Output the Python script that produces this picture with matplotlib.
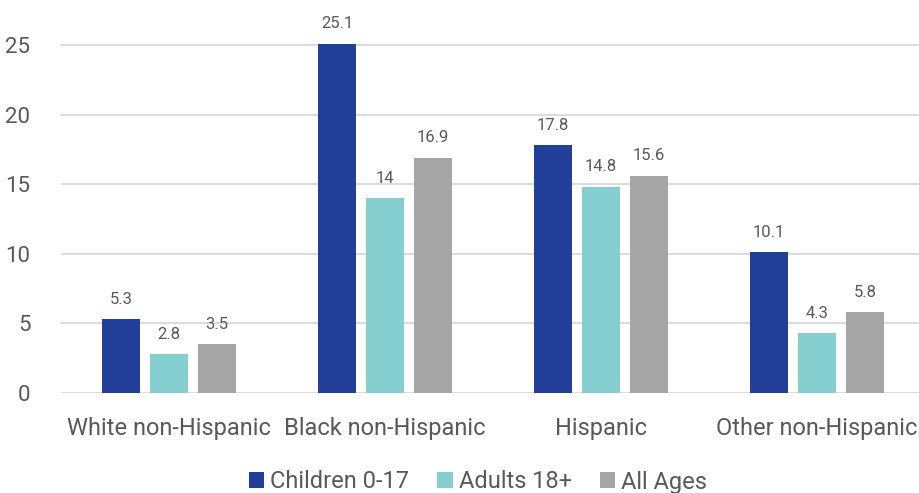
import matplotlib
matplotlib.use("Agg")
import matplotlib.pyplot as plt
import numpy as np

categories = ["White non-Hispanic", "Black non-Hispanic", "Hispanic", "Other non-Hispanic"]
series_names = ["Children 0-17", "Adults 18+", "All Ages"]
children = [5.3, 25.1, 17.8, 10.1]
adults = [2.8, 14, 14.8, 4.3]
all_ages = [3.5, 16.9, 15.6, 5.8]
colors = ["#22409A", "#86CFD1", "#A5A5A5"]
yticks = [0, 5, 10, 15, 20, 25]

plt.rcParams['font.family'] = ['Roboto', 'DejaVu Sans']
txt = "#595959"

fig = plt.figure(figsize=(9.2, 4.93), dpi=100)
W, H = 920, 493
y0 = 393
ppu = 13.92
ytop = 28
ax = fig.add_axes([61 / W, (H - y0) / H, 864 / W, ytop * ppu / H])

x = np.arange(len(categories))
bw = 38 / 216
step = 48 / 216
for i, (vals, name) in enumerate(zip([children, adults, all_ages], series_names)):
    pos = x + (i - 1) * step
    bars = ax.bar(pos, vals, width=bw, color=colors[i], label=name, zorder=3)
    for xp, v in zip(pos, vals):
        ax.annotate(f"{v:g}", (xp, v), xytext=(0, 9), textcoords="offset points",
                    ha="center", va="bottom", fontsize=12, color=txt)

ax.set_xlim(-0.5, 3.5)
ax.set_ylim(0, ytop)
ax.set_yticks(yticks)
ax.set_yticklabels([str(t) for t in yticks], fontsize=16, color=txt)
ax.set_xticks(x)
ax.set_xticklabels(categories, fontsize=17, color=txt)
ax.tick_params(axis='both', length=0)
ax.tick_params(axis='y', pad=22)
ax.tick_params(axis='x', pad=17)
ax.grid(axis='y', color="#D9D9D9", linewidth=1.3, zorder=0)
for s in ax.spines.values():
    s.set_visible(False)

leg = fig.legend(loc="center", bbox_to_anchor=(478 / W, (H - 482) / H), ncol=3, frameon=False,
                 fontsize=17, handlelength=0.65, handleheight=0.65, handletextpad=0.25,
                 columnspacing=1.2, labelcolor=txt)

fig.savefig("out.png", dpi=100)
